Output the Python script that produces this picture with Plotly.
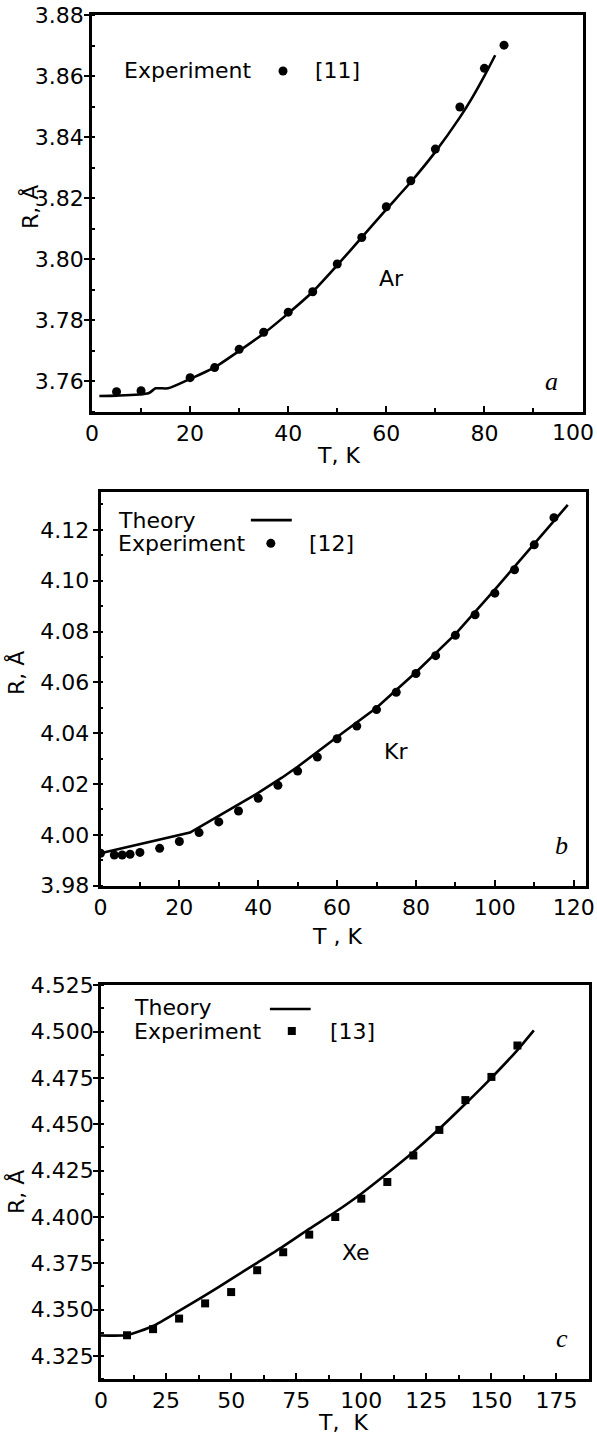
import plotly.graph_objects as go

# ---- Ar (panel a) ----
ar_exp_T = [5, 10, 20, 25, 30, 35, 40, 45, 50, 55, 60, 65, 70, 75, 80, 84]
ar_exp_R = [3.7565, 3.7568, 3.7611, 3.7644, 3.7704, 3.7760, 3.7826, 3.7893,
            3.7984, 3.8071, 3.8172, 3.8257, 3.8361, 3.8499, 3.8626, 3.8702]
ar_th_T = [1.5, 5, 11.5, 13, 15.5, 20, 25, 30, 35, 40, 45, 50, 55, 60, 65,
           70, 75, 77.5, 80, 82.2]
ar_th_R = [3.7551, 3.7552, 3.7560, 3.7576, 3.7576, 3.7607, 3.7645, 3.7699,
           3.7756, 3.7822, 3.7893, 3.7980, 3.8071, 3.8163, 3.8253, 3.8352,
           3.8465, 3.8529, 3.8601, 3.8669]
ar_T_ticks = [0, 20, 40, 60, 80, 100]

# ---- Kr (panel b) ----
kr_exp_T = [0, 3.5, 5.5, 7.5, 10, 15, 20, 25, 30, 35, 40, 45, 50, 55, 60, 65,
            70, 75, 80, 85, 90, 95, 100, 105, 110, 115]
kr_exp_R = [3.9928, 3.9921, 3.9921, 3.9924, 3.9931, 3.9947, 3.9974, 4.0009,
            4.0051, 4.0094, 4.0144, 4.0195, 4.0251, 4.0306, 4.0378, 4.0428,
            4.0493, 4.0561, 4.0635, 4.0705, 4.0785, 4.0866, 4.0951, 4.1043,
            4.1141, 4.1248]
kr_th_T = [0, 22.7, 30, 40, 46, 50, 60, 70, 80, 90, 100, 110, 118.5]
kr_th_R = [3.9928, 4.0009, 4.0075, 4.0165, 4.0225, 4.0268, 4.0385, 4.0500,
           4.0640, 4.0790, 4.0965, 4.1145, 4.1298]

# ---- Xe (panel c) ----
xe_exp_T = [10, 20, 30, 40, 50, 60, 70, 80, 90, 100, 110, 120, 130, 140, 150, 160]
xe_exp_R = [4.3361, 4.3394, 4.3451, 4.3533, 4.3594, 4.3712, 4.3809, 4.3904,
            4.3999, 4.4098, 4.4188, 4.4331, 4.4469, 4.4630, 4.4755, 4.4925]
xe_th_T = [0, 10, 20, 30, 40, 50, 60, 70, 80, 90, 100, 110, 120, 130, 140,
           150, 160, 166.3]
xe_th_R = [4.3360, 4.3362, 4.3411, 4.3492, 4.3576, 4.3664, 4.3752, 4.3841,
           4.3935, 4.4026, 4.4125, 4.4235, 4.4350, 4.4475, 4.4610, 4.4750,
           4.4900, 4.5006]

W, H = 597, 1435
FONT = "DejaVu Sans"
BLACK = "black"

fig = go.Figure()

panels = [
    # axis suffix, theory curve, experiment points, marker, size, line shape
    ("", ar_th_T, ar_th_R, ar_exp_T, ar_exp_R, "circle", 9, "spline"),
    ("2", kr_th_T, kr_th_R, kr_exp_T, kr_exp_R, "circle", 9, "linear"),
    ("3", xe_th_T, xe_th_R, xe_exp_T, xe_exp_R, "square", 8, "spline"),
]
for sfx, tT, tR, eT, eR, sym, msz, shape in panels:
    fig.add_trace(go.Scatter(x=tT, y=tR, mode="lines",
                             line=dict(color=BLACK, width=2.6, shape=shape,
                                       smoothing=0.6),
                             xaxis="x" + sfx, yaxis="y" + sfx,
                             showlegend=False, hoverinfo="skip"))
    fig.add_trace(go.Scatter(x=eT, y=eR, mode="markers",
                             marker=dict(color=BLACK, size=msz, symbol=sym,
                                         line=dict(width=0)),
                             xaxis="x" + sfx, yaxis="y" + sfx,
                             showlegend=False, hoverinfo="skip"))


def px_dom_x(a, b):
    return [a / W, b / W]


def px_dom_y(top, bottom):
    return [1 - bottom / H, 1 - top / H]


tick_font = dict(family=FONT, size=22, color=BLACK)


def xaxis(rng, dtick, mdtick, dom, anchor, **extra):
    ax = dict(range=rng, dtick=dtick, tick0=0, domain=dom, anchor=anchor,
              automargin=False, ticklabeloverflow="allow",
              showline=True, linewidth=2.5, linecolor=BLACK, mirror=True,
              ticks="inside", ticklen=6, tickwidth=2, tickcolor=BLACK,
              minor=dict(dtick=mdtick, ticks="inside", ticklen=4,
                         tickwidth=1.5, tickcolor=BLACK),
              showgrid=False, zeroline=False, tickfont=tick_font)
    ax.update(extra)
    return ax


def yaxis(rng, tick0, dtick, mdtick, fmt, dom, anchor, standoff):
    return dict(range=rng, tick0=tick0, dtick=dtick, tickformat=fmt,
                domain=dom, anchor=anchor,
                automargin=False, ticklabeloverflow="allow",
                showline=True, linewidth=2.5, linecolor=BLACK, mirror=True,
                ticks="outside", ticklen=5, tickwidth=2, tickcolor=BLACK,
                ticklabelstandoff=standoff,
                minor=dict(dtick=mdtick, tick0=tick0, ticks="inside", ticklen=3,
                           tickwidth=1.5, tickcolor=BLACK),
                showgrid=False, zeroline=False, tickfont=tick_font)


# the last label of panel a sits against the page edge, so it is drawn
# separately (right-aligned) below
ar_tick_text = [str(v) for v in ar_T_ticks[:-1]] + [""]

fig.update_layout(
    width=W, height=H, autosize=False,
    margin=dict(l=0, r=0, t=0, b=0, autoexpand=False),
    paper_bgcolor="white", plot_bgcolor="white",
    xaxis=xaxis([-0.001, 100.001], 20, 10, px_dom_x(92, 582.5), "y",
                tickmode="array", tickvals=ar_T_ticks, ticktext=ar_tick_text),
    yaxis=yaxis([3.75, 3.8801], 3.76, 0.02, 0.01, ".2f",
                px_dom_y(15, 411.5), "x", -4),
    xaxis2=xaxis([-0.001, 123], 20, 10, px_dom_x(100.5, 585.5), "y2"),
    yaxis2=yaxis([3.9799, 4.135], 3.98, 0.02, 0.01, ".2f",
                 px_dom_y(491.7, 886), "x2", -1),
    xaxis3=xaxis([-0.001, 187.3], 25, 12.5, px_dom_x(101, 588.5), "y3"),
    yaxis3=yaxis([4.3125, 4.5251], 4.325, 0.025, 0.0125, ".3f",
                 px_dom_y(985, 1379), "x3", -5),
)

txt = dict(family=FONT, size=22, color=BLACK)
ital = dict(family="Liberation Serif", size=26, color=BLACK)
annotations = []
shapes = []


def note(text, x, y, xref, yref, font=txt, xanchor="center", angle=0):
    annotations.append(dict(text=text, x=x, y=y, xref=xref, yref=yref,
                            showarrow=False, font=font, xanchor=xanchor,
                            yanchor="middle", textangle=angle))


# last x tick label of panel a, kept inside the page
note(str(ar_T_ticks[-1]), 596 / W, 1 - 433 / H, "paper", "paper",
     xanchor="right")

# axis titles
note("T, K", 338 / W, 1 - 456 / H, "paper", "paper")
note("T , K", 337 / W, 1 - 936 / H, "paper", "paper")
note("T,  K", 343 / W, 1 - 1422 / H, "paper", "paper")
note("R, Å", 30 / W, 1 - 207 / H, "paper", "paper", angle=-90)
note("R, Å", 16 / W, 1 - 673 / H, "paper", "paper", angle=-90)
note("R, Å", 16 / W, 1 - 1192 / H, "paper", "paper", angle=-90)

# element names and panel letters
note("Ar", 61, 3.7938, "x", "y")
note("Kr", 75, 4.033, "x2", "y2")
note("Xe", 97.8, 4.3809, "x3", "y3")
note("<i>a</i>", 93.6, 3.7600, "x", "y", font=ital)
note("<i>b</i>", 117.0, 3.9960, "x2", "y2", font=ital)
note("<i>c</i>", 177.3, 4.3345, "x3", "y3", font=ital)

# key blocks inside each panel
note("Experiment", 0.0612, 0.8588, "x domain", "y domain", xanchor="left")
note("[11]", 0.4506, 0.8588, "x domain", "y domain", xanchor="left")

note("Theory", 0.0319, 0.9260, "x2 domain", "y2 domain", xanchor="left")
note("Experiment", 0.0319, 0.8690, "x2 domain", "y2 domain", xanchor="left")
note("[12]", 0.4253, 0.8690, "x2 domain", "y2 domain", xanchor="left")

note("Theory", 0.0632, 0.9420, "x3 domain", "y3 domain", xanchor="left")
note("Experiment", 0.0632, 0.8832, "x3 domain", "y3 domain", xanchor="left")
note("[13]", 0.4647, 0.8832, "x3 domain", "y3 domain", xanchor="left")


def key_line(xr, yr, x0, x1, y):
    shapes.append(dict(type="line", xref=xr, yref=yr, x0=x0, x1=x1, y0=y, y1=y,
                       line=dict(color=BLACK, width=2.6)))


def key_dot(xr, yr, xc, yc, wpx, hpx, kind, r):
    dx = r / wpx
    dy = r / hpx
    shapes.append(dict(type=kind, xref=xr, yref=yr, x0=xc - dx, x1=xc + dx,
                       y0=yc - dy, y1=yc + dy, fillcolor=BLACK,
                       line=dict(width=0)))


key_dot("x domain", "y domain", 0.3894, 0.8588, 490.5, 396.5, "circle", 4.5)
key_line("x2 domain", "y2 domain", 0.310, 0.3944, 0.928)
key_dot("x2 domain", "y2 domain", 0.3512, 0.8690, 485, 394.3, "circle", 4.5)
key_line("x3 domain", "y3 domain", 0.3465, 0.4301, 0.9391)
key_dot("x3 domain", "y3 domain", 0.3914, 0.8832, 487.5, 394, "rect", 4)

fig.update_layout(annotations=annotations, shapes=shapes)

fig.write_html("out.html")
